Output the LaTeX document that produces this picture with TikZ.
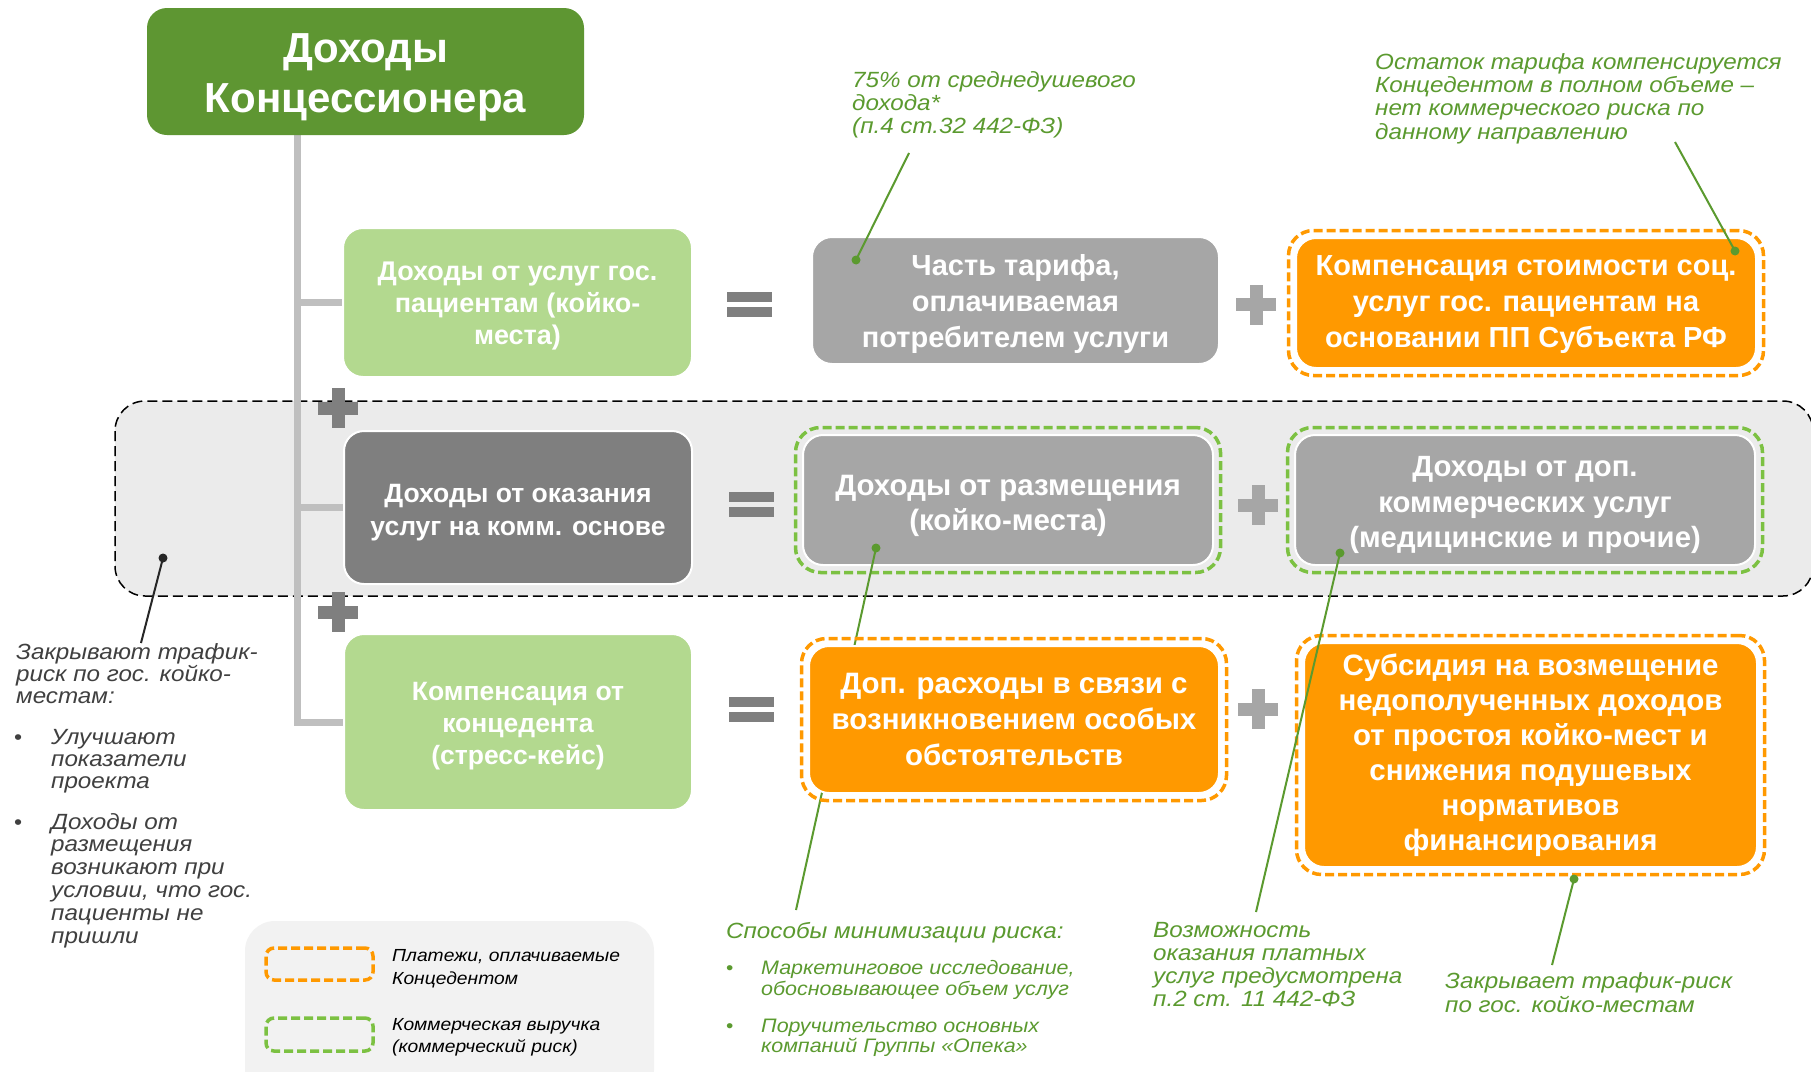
\documentclass[tikz,border=0pt]{standalone}
\usepackage{fontspec}
\setmainfont{Liberation Sans}
\newfontfamily\notefont[FakeStretch=1.1]{Liberation Sans}
\usetikzlibrary{fit}
\definecolor{tgreen}{HTML}{5E9632}
\definecolor{lgreen}{HTML}{B3D98F}
\definecolor{dgray}{HTML}{7F7F7F}
\definecolor{mgray}{HTML}{A6A6A6}
\definecolor{orng}{HTML}{FF9900}
\definecolor{dgreen}{HTML}{7CC142}
\definecolor{agreen}{HTML}{5B9A2F}
\definecolor{trunkc}{HTML}{BFBFBF}
\definecolor{bandc}{HTML}{EBEBEB}
\definecolor{legc}{HTML}{F2F2F2}
\definecolor{ltxt}{HTML}{404040}
\newcommand\setfs[2]{\fontsize{#1}{#2}\selectfont}
\begin{document}
\begin{tikzpicture}[x=1pt,y=-1pt,
  trunk/.style={draw=trunkc, line width=7pt},
  cellbox/.style={rounded corners=20pt, inner sep=0pt, draw=white, line width=2pt},
  celltext/.style={inner sep=0pt, align=center, text=white},
  odash/.style={draw=orng, line width=3.5pt, dash pattern=on 9pt off 4pt, rounded corners=25pt, inner sep=6.5pt},
  gdash/.style={draw=dgreen, line width=3.5pt, dash pattern=on 9pt off 4pt, rounded corners=25pt, inner sep=6.5pt},
  callout/.style={draw=agreen, line width=2pt},
  dotg/.style={fill=agreen},
  note/.style={inner sep=0pt, align=left, anchor=base west, font=\notefont\itshape\setfs{22}{23}, text=agreen},
  plussign/.pic={\fill (-20,-6.5) rectangle (20,6.5); \fill (-6.5,-20) rectangle (6.5,20);},
  eqsign/.pic={\fill (-22.5,-12.5) rectangle (22.5,-2.5); \fill (-22.5,2.5) rectangle (22.5,12.5);}
]
\useasboundingbox (0,0) rectangle (1811,1071);
\fill[white] (0,0) rectangle (1811,1071);

% band and legend background
\draw[fill=bandc, draw=black, line width=1.5pt, dash pattern=on 10pt off 5pt, rounded corners=30pt] (115,401) rectangle (1813,596);
\fill[legc, rounded corners=30pt] (245,921) rectangle (654,1100);

% trunk
\coordinate (ttop) at (297,135);
\coordinate (tbot) at (297,722);

% left boxes
\node[cellbox, fill=lgreen, minimum width=349pt, minimum height=149pt] (b1) at (517.5,302.5) {};
\node[celltext, font=\bfseries\setfs{27}{32}] (b1t) at ([yshift=-4pt]b1.center) {Доходы от услуг гос.\\пациентам (койко-\\места)};
\node[cellbox, fill=dgray, minimum width=348pt, minimum height=153pt] (b2) at (518,507.5) {};
\node[celltext, font=\bfseries\setfs{26.5}{32.5}] (b2t) at ([yshift=-5pt]b2.center) {Доходы от оказания\\услуг на комм. основе};
\node[cellbox, fill=lgreen, minimum width=348pt, minimum height=176pt] (b3) at (518,722) {};
\node[celltext, font=\bfseries\setfs{26.5}{32}] (b3t) at ([yshift=-4pt]b3.center) {Компенсация от\\концедента\\(стресс-кейс)};
\draw[trunk] (ttop) -- (tbot) -- (b3.west);
\draw[trunk] (ttop |- b1.west) -- (b1.west);
\draw[trunk] (ttop |- b2.west) -- (b2.west);
\node[cellbox, fill=tgreen, draw=none, minimum width=437pt, minimum height=127pt] (title) at (365.5,71.5) {};
\node[celltext, font=\bfseries\setfs{42}{50}] (titlet) at ([yshift=-6pt]title.center) {Доходы\\Концессионера};

% operators
\pic[fill=dgray] (pl1) at (338,408) {plussign};
\pic[fill=dgray] (pl2) at (338,612) {plussign};
\pic[fill=dgray] (eq1) at (749.5,304.5) {eqsign};
\pic[fill=dgray] (eq2) at (751,504.5) {eqsign};
\pic[fill=dgray] (eq3) at (751,709.5) {eqsign};
\pic[fill=mgray] (pm1) at (1256,304.5) {plussign};
\pic[fill=mgray] (pm2) at (1258,505) {plussign};
\pic[fill=mgray] (pm3) at (1258,709) {plussign};

% row 1
\node[cellbox, fill=mgray, minimum width=407pt, minimum height=127pt] (c1) at (1015.5,300.5) {};
\node[celltext, font=\bfseries\setfs{29}{36}] (c1t) at ([yshift=-3pt]c1.center) {Часть тарифа,\\оплачиваемая\\потребителем услуги};
\node[cellbox, fill=orng, minimum width=460pt, minimum height=130pt] (o1) at (1526,303) {};
\node[celltext, font=\bfseries\setfs{29}{36}] (o1t) at ([yshift=-2pt]o1.center) {Компенсация стоимости соц.\\услуг гос. пациентам на\\основании ПП Субъекта РФ};
\node[odash, fit=(o1)] (o1d) {};

% row 2
\node[cellbox, fill=mgray, minimum width=410pt, minimum height=130pt] (c2) at (1008,500) {};
\node[celltext, font=\bfseries\setfs{29.5}{35}] (c2t) at ([yshift=-6pt]c2.center) {Доходы от размещения\\(койко-места)};
\node[gdash, fit=(c2)] (c2d) {};
\node[cellbox, fill=mgray, minimum width=460pt, minimum height=130pt] (c3) at (1525,500) {};
\node[celltext, font=\bfseries\setfs{29.3}{35.5}] (c3t) at ([yshift=-5pt]c3.center) {Доходы от доп.\\коммерческих услуг\\(медицинские и прочие)};
\node[gdash, fit=(c3)] (c3d) {};

% callout 4 (behind row-3 box)
\coordinate (d4) at (876,548);
\coordinate (e4) at (796,910);
\draw[callout] (d4) -- (e4);
\fill[dotg] (d4) circle (4.5);

% row 3
\node[cellbox, fill=orng, minimum width=410pt, minimum height=147pt] (o2) at (1014,719.5) {};
\node[celltext, font=\bfseries\setfs{29.5}{36}] (o2t) at (o2.center) {Доп. расходы в связи с\\возникновением особых\\обстоятельств};
\node[odash, fit=(o2)] (o2d) {};
\node[cellbox, fill=orng, minimum width=453pt, minimum height=224pt] (o3) at (1530.5,755) {};
\node[celltext, font=\bfseries\setfs{29.5}{35}] (o3t) at (o3.center) {Субсидия на возмещение\\недополученных доходов\\от простоя койко-мест и\\снижения подушевых\\нормативов\\финансирования};
\node[odash, fit=(o3)] (o3d) {};

% callouts
\coordinate (d1) at (856,260); \coordinate (e1) at (909,153);
\coordinate (d2) at (1735,251); \coordinate (e2) at (1675,142);
\coordinate (d3) at (163,558); \coordinate (e3) at (141,643);
\coordinate (d5) at (1340,553); \coordinate (e5) at (1256,912);
\coordinate (d6) at (1574,879); \coordinate (e6) at (1552,965);
\draw[callout] (e1) -- (d1); \fill[dotg] (d1) circle (4.5);
\draw[callout] (e2) -- (d2); \fill[dotg] (d2) circle (4.5);
\draw[draw=black!85, line width=2pt] (e3) -- (d3); \fill[black!85] (d3) circle (4.5);
\draw[callout] (e5) -- (d5); \fill[dotg] (d5) circle (4.5);
\draw[callout] (e6) -- (d6); \fill[dotg] (d6) circle (4.5);

% notes (anchor = baseline of last line)
\node[note] (n1) at (852,133) {75\% от среднедушевого\\дохода*\\(п.4 ст.32 442-ФЗ)};
\node[note, font=\notefont\itshape\setfs{22}{23.3}] (n2) at (1375,139) {Остаток тарифа компенсируется\\Концедентом в полном объеме –\\нет коммерческого риска по\\данному направлению};
\node[note, text=ltxt, font=\notefont\itshape\setfs{22}{22}] (n3) at (16,703) {Закрывают трафик-\\риск по гос. койко-\\местам:};
\node[note, text=ltxt, font=\notefont\setfs{21}{22}] (n3b1) at (14,744) {•};
\node[note, text=ltxt, font=\notefont\itshape\setfs{22}{22}] (n3t1) at (51,788) {Улучшают\\показатели\\проекта};
\node[note, text=ltxt, font=\notefont\setfs{21}{23}] (n3b2) at (14,829) {•};
\node[note, text=ltxt, font=\notefont\itshape\setfs{22}{22.8}] (n3t2) at (51,943) {Доходы от\\размещения\\возникают при\\условии, что гос.\\пациенты не\\пришли};
\node[note] (n4) at (726,938) {Способы минимизации риска:};
\node[note, font=\notefont\setfs{19}{21}] (n4b1) at (726,974) {•};
\node[note, font=\notefont\itshape\setfs{19.5}{21}] (n4t1) at (761,995) {Маркетинговое исследование,\\обосновывающее объем услуг};
\node[note, font=\notefont\setfs{19}{21}] (n4b2) at (726,1032) {•};
\node[note, font=\notefont\itshape\setfs{19.5}{20}] (n4t2) at (761,1052) {Поручительство основных\\компаний Группы «Опека»};
\node[note, font=\notefont\itshape\setfs{22}{22.7}] (n5) at (1153,1006) {Возможность\\оказания платных\\услуг предусмотрена\\п.2 ст. 11 442-ФЗ};
\node[note, font=\notefont\itshape\setfs{22}{24}] (n6) at (1445,1012) {Закрывает трафик-риск\\по гос. койко-местам};

% legend
\node[draw=orng, line width=3.5pt, dash pattern=on 9pt off 4pt, rounded corners=8pt, minimum width=107pt, minimum height=32pt, inner sep=0pt] (lg1) at (319.5,964) {};
\node[draw=dgreen, line width=3.5pt, dash pattern=on 9pt off 4pt, rounded corners=8pt, minimum width=107pt, minimum height=33pt, inner sep=0pt] (lg2) at (319.5,1034.5) {};
\node[note, text=black, font=\notefont\itshape\setfs{17.5}{23}] (lt1) at (392,984) {Платежи, оплачиваемые\\Концедентом};
\node[note, text=black, font=\notefont\itshape\setfs{17.5}{22}] (lt2) at (392,1052) {Коммерческая выручка\\(коммерческий риск)};
\end{tikzpicture}
\end{document}
